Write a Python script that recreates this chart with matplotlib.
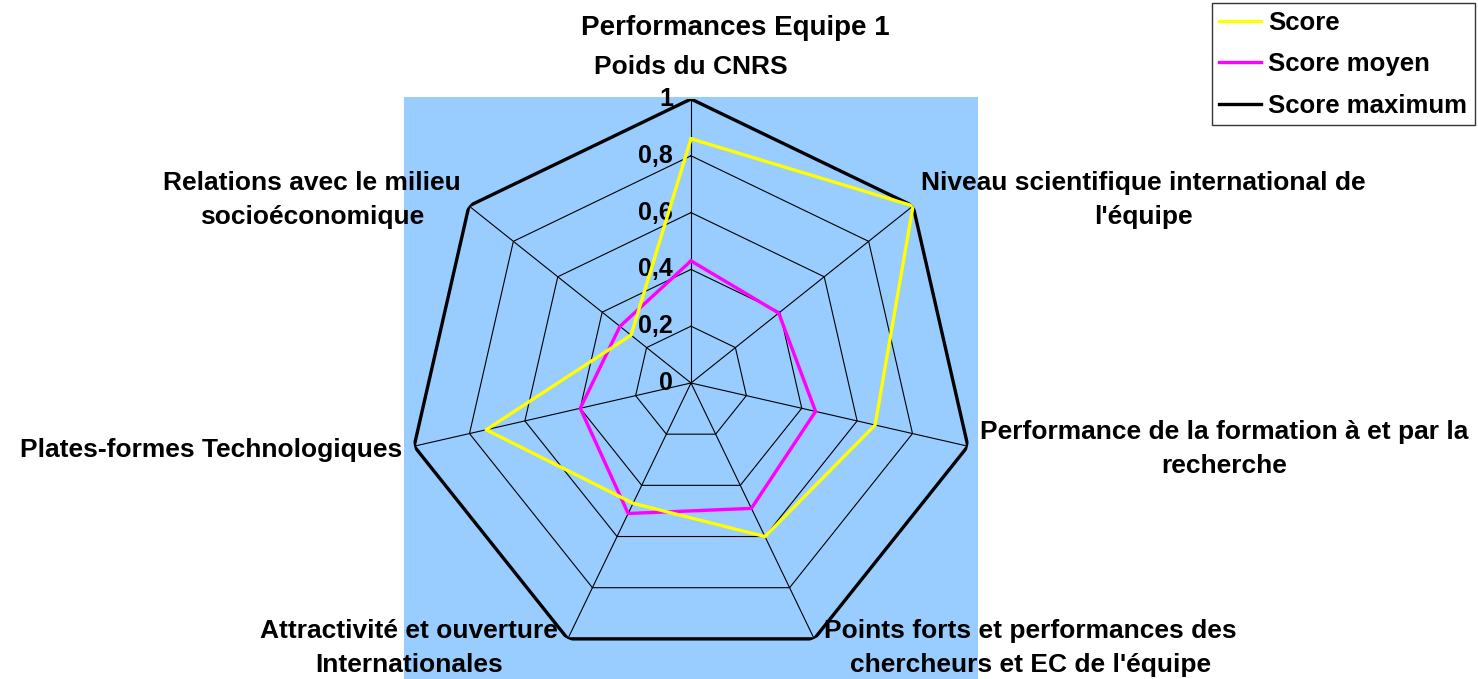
import numpy as np
import matplotlib
matplotlib.use('Agg')
import matplotlib.pyplot as plt
from matplotlib.patches import Rectangle

plt.rcParams['font.family'] = ['Liberation Sans', 'DejaVu Sans']
plt.rcParams['font.weight'] = 'bold'

# Data
categories = ['Poids du CNRS',
              "Niveau scientifique international de\nl'équipe",
              'Performance de la formation à et par la\nrecherche',
              "Points forts et performances des\nchercheurs et EC de l'équipe",
              'Attractivité et ouverture\nInternationales',
              'Plates-formes Technologiques',
              'Relations avec le milieu\nsocioéconomique']
score = [0.86, 1.0, 0.665, 0.60, 0.47, 0.74, 0.27]
score_moyen = [0.43, 0.395, 0.45, 0.49, 0.51, 0.40, 0.32]
score_max = [1, 1, 1, 1, 1, 1, 1]
levels = [0, 0.2, 0.4, 0.6, 0.8, 1]
level_labels = ['0', '0,2', '0,4', '0,6', '0,8', '1']

W, H = 1478, 679
fig = plt.figure(figsize=(W / 100, H / 100), dpi=100)

# blue plot area
fig.patches.append(Rectangle((404 / W, 0), 574 / W, (H - 97) / H,
                             transform=fig.transFigure, facecolor='#99CCFF',
                             edgecolor='none', zorder=-5))

cx, cy, R = 691, 383, 284
ax = fig.add_axes([(cx - R) / W, (H - cy - R) / H, 2 * R / W, 2 * R / H],
                  projection='polar')
ax.set_zorder(2)
ax.set_theta_offset(np.pi / 2)
ax.set_theta_direction(-1)
ax.set_ylim(0, 1)
ax.patch.set_visible(False)
ax.spines['polar'].set_visible(False)
ax.grid(False)
ax.set_xticks([])
ax.set_yticks([])

n = len(categories)
theta = np.arange(n) * 2 * np.pi / n
tc = np.append(theta, theta[0])

# polygon grid and spokes
for lv in levels[1:-1]:
    ax.plot(tc, [lv] * (n + 1), color='black', lw=0.8, zorder=1)
for t in theta:
    ax.plot([t, t], [0, 1], color='black', lw=0.8, zorder=1)

ax.plot(tc, score_max + score_max[:1], color='black', lw=2.4, zorder=3,
        label='Score maximum')
ax.plot(tc, score_moyen + score_moyen[:1], color='#FF00FF', lw=2.4, zorder=4,
        label='Score moyen')
ax.plot(tc, score + score[:1], color='#FFFF00', lw=2.4, zorder=5,
        label='Score')

# value labels along the top spoke
for lv, lab in zip(levels, level_labels):
    ax.annotate(lab, xy=(0, lv), xytext=(-18, 0), textcoords='offset pixels',
                ha='right', va='center', fontsize=18, fontweight='bold',
                annotation_clip=False, zorder=2)

# category labels
offsets = [((0, 20), 'center', 'bottom'),
           ((8, 6), 'left', 'center'),
           ((12, -3), 'left', 'center'),
           ((10, -9), 'left', 'center'),
           ((-10, -9), 'right', 'center'),
           ((-12, -4), 'right', 'center'),
           ((-8, 6), 'right', 'center')]
for t, lab, (off, ha, va) in zip(theta, categories, offsets):
    ax.annotate(lab, xy=(t, 1), xytext=off, textcoords='offset pixels',
                ha=ha, va=va, fontsize=19, fontweight='bold',
                multialignment='center', linespacing=1.55,
                annotation_clip=False)

fig.text(735 / W, 1 - 28 / H, 'Performances Equipe 1', ha='center',
         va='center', fontsize=20, fontweight='bold')

handles, labels = ax.get_legend_handles_labels()
order = [2, 1, 0]
leg = fig.legend([handles[i] for i in order], [labels[i] for i in order],
                 loc='upper right', bbox_to_anchor=(1475 / W, 1 - 3 / H),
                 fontsize=18.5, frameon=True, fancybox=False, handlelength=1.6,
                 handletextpad=0.3, labelspacing=0.68, borderpad=0.3,
                 borderaxespad=0)
leg.get_frame().set_edgecolor('black')
leg.get_frame().set_linewidth(1.0)

fig.savefig('out.png', dpi=100)
